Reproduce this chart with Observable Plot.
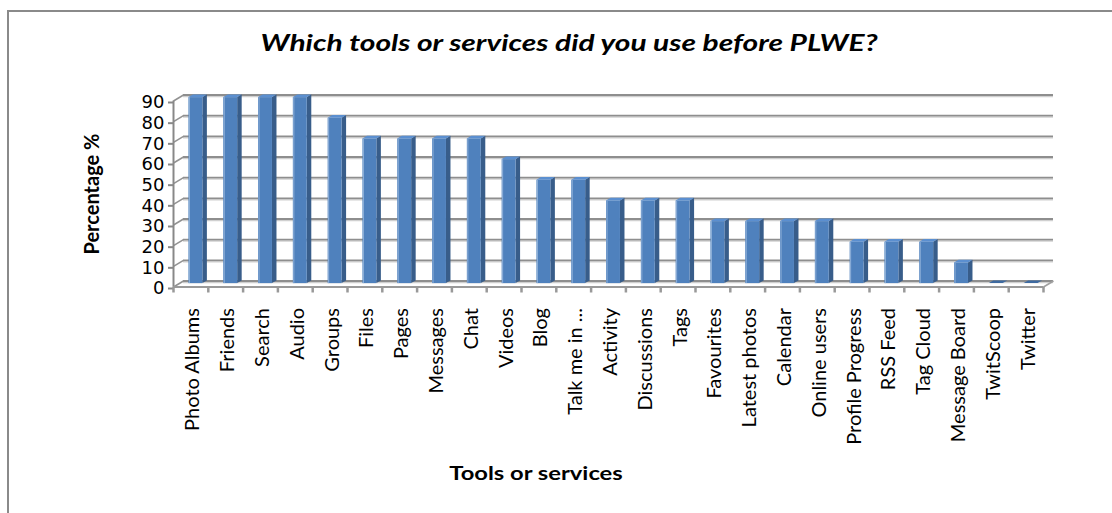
<!DOCTYPE html>
<html><head><meta charset="utf-8">
<script src="https://cdn.jsdelivr.net/npm/d3@7"></script>
<script src="https://cdn.jsdelivr.net/npm/@observablehq/plot@0.6"></script>
<style>
body{margin:0;background:#fff;}
#wrap{position:relative;width:1112px;height:513px;overflow:hidden;font-family:Lato,"Open Sans",sans-serif;background:#fff;}
#border{position:absolute;left:7px;top:10px;width:1120px;height:520px;border:2px solid #8a8a8a;box-sizing:border-box;}
#title{position:absolute;left:569px;top:42px;transform:translate(-50%,-50%) scaleX(1.36);font:italic bold 22px Lato,sans-serif;color:#000;white-space:nowrap;}
#ylab{position:absolute;left:91px;top:194px;transform:translate(-50%,-50%) rotate(-90deg);font:bold 20px Lato,sans-serif;white-space:nowrap;}
#xlab{position:absolute;left:536px;top:472px;transform:translate(-50%,-50%) scaleX(1.25);font:bold 19px Lato,sans-serif;white-space:nowrap;}
#chart{position:absolute;left:0;top:0;}
</style></head>
<body>
<div id="wrap">
<div id="border"></div>
<div id="chart"></div>
<div id="title">Which tools or services did you use before PLWE?</div>
<div id="ylab">Percentage %</div>
<div id="xlab">Tools or services</div>
</div>
<script>
const categories = ["Photo Albums","Friends","Search","Audio","Groups","Files","Pages","Messages","Chat","Videos","Blog","Talk me in ...","Activity","Discussions","Tags","Favourites","Latest photos","Calendar","Online users","Profile Progress","RSS Feed","Tag Cloud","Message Board","TwitScoop","Twitter"];
const values = [90,90,90,90,80,70,70,70,70,60,50,50,40,40,40,30,30,30,30,20,20,20,10,0,0];
const yTicks = [0,10,20,30,40,50,60,70,80,90];

// oblique 3D projection constants (in data units of the two scales)
const wallDX = 0.287, wallDY = 2.9;   // full floor depth
const barDX = 0.13, barDY = 1.3;      // bar depth
const barOffX = 5, barOffY = -3.4;    // bar placement inside the floor (px)
const barHalf = 0.2;
const n = categories.length;

const bars = categories.map((c, i) => ({i, c, v: values[i], xl: i + 0.5 - barHalf, xr: i + 0.5 + barHalf}));
const sidePts = bars.flatMap(b => [
  {b: b.i, x: b.xr, y1: 0, y2: b.v},
  {b: b.i, x: b.xr + barDX, y1: barDY, y2: b.v + barDY}
]);
const topPts = bars.flatMap(b => [
  {b: b.i, x: b.xl, y1: b.v, y2: b.v},
  {b: b.i, x: b.xl + barDX, y1: b.v, y2: b.v + barDY},
  {b: b.i, x: b.xr, y1: b.v, y2: b.v + barDY},
  {b: b.i, x: b.xr + barDX, y1: b.v + barDY, y2: b.v + barDY}
]);
const grid = yTicks.map(t => ({t, x1: 0, x2: n, xb1: wallDX, xb2: n + wallDX, yb: t + wallDY}));
const floorEdge = [{x1: n, y1: 0, x2: n + wallDX, y2: wallDY}];
const frontY = [{x: 0, y1: 0, y2: 90}];
const frontX = [{y: 0, x1: 0, x2: n}];

const plot = Plot.plot({
  width: 1112,
  height: 513,
  marginLeft: 173,
  marginRight: 69,
  marginTop: 100.5,
  marginBottom: 226.5,
  x: {type: "linear", domain: [0, n]},
  y: {domain: [0, 90]},
  style: {background: "transparent", overflow: "visible"},
  marks: [
    // back wall gridlines (with light shadow)
    Plot.ruleY(grid, {y: "yb", x1: "xb1", x2: "xb2", dy: 1.5, stroke: "#d0d0d0", strokeWidth: 1.3}),
    Plot.ruleY(grid, {y: "yb", x1: "xb1", x2: "xb2", stroke: "#8e8e8e", strokeWidth: 1.8}),
    // side wall diagonals
    Plot.link(grid, {x1: "x1", y1: "t", x2: "xb1", y2: "yb", stroke: "#929292", strokeWidth: 1.6}),
    // floor right edge
    Plot.link(floorEdge, {x1: "x1", y1: "y1", x2: "x2", y2: "y2", stroke: "#a0a0a0", strokeWidth: 1.6}),
    // bars: side, front, top
    Plot.areaY(sidePts, {x: "x", y1: "y1", y2: "y2", z: "b", fill: "#385d8a", dx: barOffX, dy: barOffY, curve: "linear"}),
    Plot.rectY(bars, {x1: "xl", x2: "xr", y1: d => 0, y2: "v", fill: "#4f81bd", dx: barOffX, dy: barOffY}),
    Plot.ruleX(bars.filter(b => b.v > 0), {x: "xl", y1: d => 0, y2: "v", stroke: "#8fb0d8", strokeWidth: 1, dx: barOffX + 0.5, dy: barOffY}),
    Plot.areaY(topPts, {x: "x", y1: "y1", y2: "y2", z: "b", fill: d => values[d.b] === 0 ? "#3e6aa0" : "#5b8fd0", dx: barOffX, dy: barOffY, curve: "linear"}),
    // front axes
    Plot.ruleX(frontY, {x: "x", y1: "y1", y2: "y2", stroke: "#888", strokeWidth: 2}),
    Plot.ruleY(frontX, {y: "y", x1: "x1", x2: "x2", stroke: "#999", strokeWidth: 2}),
    Plot.axisY({ticks: yTicks, tickSize: 5, tickPadding: 4, stroke: "#888", strokeWidth: 2, fontSize: 18, fontFamily: "DejaVu Sans", fill: "#000", label: null, dy: 1.5}),
    Plot.axisX({ticks: d3.range(n + 1), tickSize: 6, tickFormat: () => "", stroke: "#999", strokeWidth: 2.5, label: null}),
    Plot.axisX({ticks: d3.range(n).map(i => i + 0.5), tickSize: 0, tickPadding: 21, tickRotate: -90, tickFormat: t => categories[Math.floor(t)], fontSize: 20, fontFamily: "Lato", fill: "#000", label: null, dx: 2})
  ]
});
document.getElementById("chart").appendChild(plot);
</script>
</body></html>
